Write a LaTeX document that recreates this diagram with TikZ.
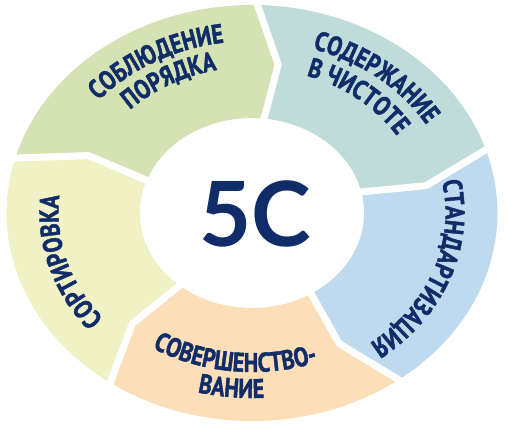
\documentclass[tikz,border=0pt]{standalone}
\usepackage{fontspec}
\usetikzlibrary{decorations.text}
\newfontfamily\lblfont{PT Sans}[FakeStretch=0.82, FakeBold=1.6]
\newfontfamily\bigfont{Lato}
\definecolor{navy}{RGB}{16,45,105}
\definecolor{sortcol}{RGB}{240,241,196}
\definecolor{ordercol}{RGB}{213,227,180}
\definecolor{cleancol}{RGB}{191,219,218}
\definecolor{stdcol}{RGB}{191,218,238}
\definecolor{improvecol}{RGB}{252,223,184}
\begin{document}
\begin{tikzpicture}[x=1.18pt, y=1pt,
  ringarc/.style={x radius=1.18*#1pt, y radius=#1pt},
  gapline/.style={draw=white, line width=7pt},
  lbl/.style={decorate, decoration={text along path, text align=center, text color=navy,
    text={|\lblfont\bfseries\fontsize{27}{27}\selectfont|#1}}}]
  \useasboundingbox (-252pt,-214pt) rectangle (255pt,213pt);
  \foreach \s/\e/\col in {235/165/sortcol, 165/89/ordercol, 89/18/cleancol, 18/-53/stdcol, -53/-125/improvecol}
    \fill[\col] (\s:208) arc[start angle=\s, end angle=\e, ringarc=208] -- (\e-7.5:150) -- (\e-4:95)
      arc[start angle=\e-4, end angle=\s-4, ringarc=95] -- (\s-7.5:150) -- cycle;
  \foreach \b in {165, 89, 18, -53, -125}
    \draw[gapline] (\b+1:224) -- (\b-7.5:150) -- (\b-4:80);
  \node[inner sep=0pt, text=navy, font=\bigfont\bfseries\fontsize{90}{90}\selectfont] (logo) at (3pt,-1pt) {5С};
  \path[lbl=СОРТИРОВКА] (241:164) arc[start angle=241, end angle=151, ringarc=164];
  \path[lbl=СОБЛЮДЕНИЕ] (165:172) arc[start angle=165, end angle=75, ringarc=172];
  \path[lbl=ПОРЯДКА] (165:146) arc[start angle=165, end angle=75, ringarc=146];
  \path[lbl=СОДЕРЖАНИЕ] (95:172) arc[start angle=95, end angle=5, ringarc=172];
  \path[lbl=В ЧИСТОТЕ] (95:145) arc[start angle=95, end angle=5, ringarc=145];
  \path[lbl=СТАНДАРТИЗАЦИЯ] (25:164) arc[start angle=25, end angle=-65, ringarc=164];
  \path[lbl=СОВЕРШЕНСТВО-] (219:159) arc[start angle=219, end angle=309, ringarc=159];
  \path[lbl=ВАНИЕ] (219:185) arc[start angle=219, end angle=309, ringarc=185];
\end{tikzpicture}
\end{document}
